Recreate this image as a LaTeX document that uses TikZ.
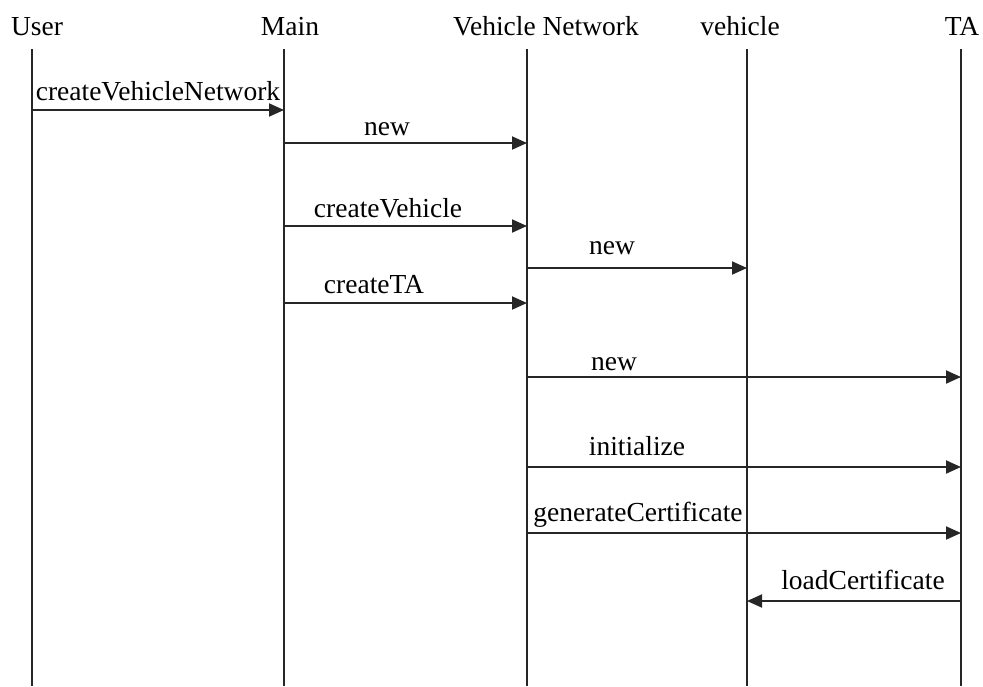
\documentclass[tikz,border=0pt]{standalone}
\usepackage{fontspec}
\setmainfont{Liberation Serif}
\usetikzlibrary{arrows.meta}
\begin{document}
\begin{tikzpicture}[x=1pt,y=-1pt,
  lifeline/.style={line width=1.9pt, black!85},
  msg/.style={line width=1.9pt, black!85, -{Triangle[length=15pt,width=13pt]}},
  head/.style={anchor=base, inner sep=0pt, font=\fontsize{27.5}{30}\selectfont},
  lbl/.style={anchor=base, inner sep=0pt, font=\fontsize{27.5}{30}\selectfont}]
\useasboundingbox (0,0) rectangle (983,686);

% participants
\node[head] (hUser) at (37,35) {User};
\node[head] (hMain) at (290,35) {Main};
\node[head] (hVN)   at (546,35) {Vehicle Network};
\node[head] (hVeh)  at (740,35) {vehicle};
\node[head] (hTA)   at (962,35) {TA};

% lifeline ends
\coordinate (User) at (32,49);   \coordinate (UserB) at (32,686);
\coordinate (Main) at (284,49);  \coordinate (MainB) at (284,686);
\coordinate (VN)   at (527,49);  \coordinate (VNB)   at (527,686);
\coordinate (Veh)  at (747,49);  \coordinate (VehB)  at (747,686);
\coordinate (TA)   at (961,49);  \coordinate (TAB)   at (961,686);

\foreach \p in {User,Main,VN,Veh,TA}
  \draw[lifeline] (\p) -- (\p B);

% messages
\draw[msg] (User |- 0,110) -- (Main |- 0,110);
\node[lbl] (l1) at (158,100) {createVehicleNetwork};

\draw[msg] (Main |- 0,143) -- (VN |- 0,143);
\node[lbl] (l2) at (387,135) {new};

\draw[msg] (Main |- 0,226) -- (VN |- 0,226);
\node[lbl] (l3) at (388,217) {createVehicle};

\draw[msg] (VN |- 0,268) -- (Veh |- 0,268);
\node[lbl] (l4) at (612,254) {new};

\draw[msg] (Main |- 0,303) -- (VN |- 0,303);
\node[lbl] (l5) at (374,293) {createTA};

\draw[msg] (VN |- 0,377) -- (TA |- 0,377);
\node[lbl] (l6) at (614,370) {new};

\draw[msg] (VN |- 0,467) -- (TA |- 0,467);
\node[lbl] (l7) at (637,455) {initialize};

\draw[msg] (VN |- 0,533) -- (TA |- 0,533);
\node[lbl] (l8) at (638,521) {generateCertificate};

\draw[msg] (TA |- 0,601) -- (Veh |- 0,601);
\node[lbl] (l9) at (863,589) {loadCertificate};
\end{tikzpicture}
\end{document}
